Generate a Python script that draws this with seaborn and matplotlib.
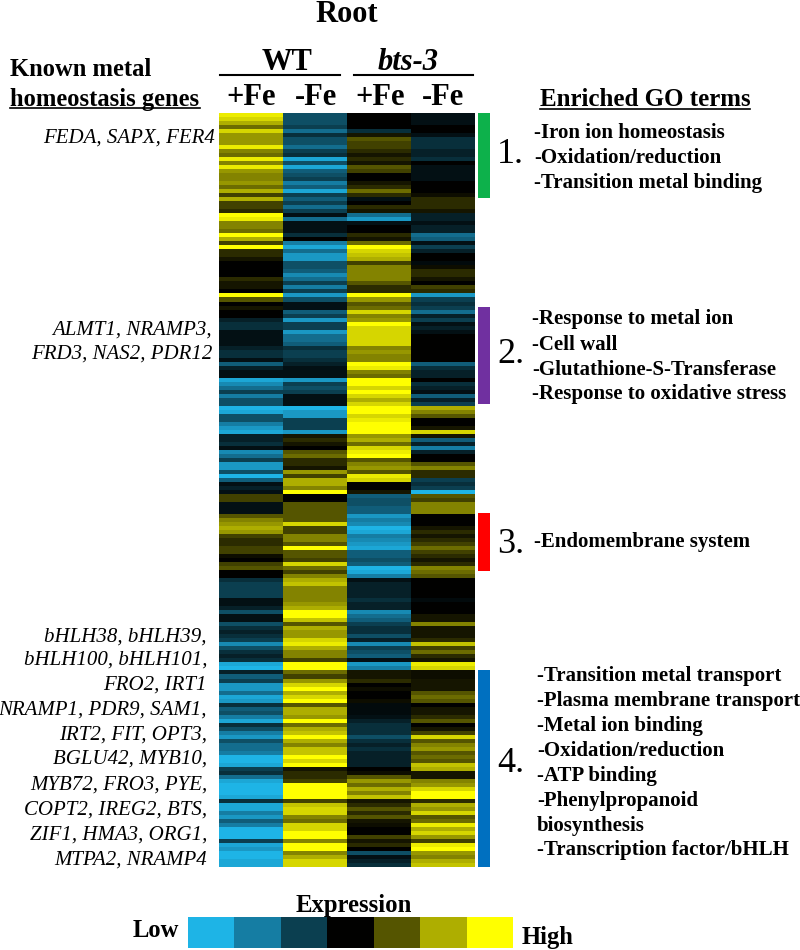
# plot.py - root expression heatmap
import numpy as np
import pandas as pd
import matplotlib
matplotlib.use("Agg")
import matplotlib.pyplot as plt
from matplotlib.colors import LinearSegmentedColormap
from matplotlib.patches import Rectangle
import seaborn as sns

# --- Data (one value per ~4 px row, -6 low .. 6 high) ---
wt_plus = [
    5.5, 5, 4, 2.5, 5, 3.5, 3.5, 3.5, 5.5, 3, 2.5, 5.5, 3, 5.5, 3.5, 3, 3, 3.5, 2.5, 4, 1.5, 4, 1.5, 1.5,
    1, 6, 5.5, 3, 3, 2.5, 6, 4, 1.5, 6, 1, 1, 0.5, 0, 0, 0, 0, 1, 0.5, 0.5, 0, 6, 2, 0,
    0.5, 0, 0, -1, -1.5, -1.5, -0.5, -0.5, -0.5, -0.5, -1, -1.5, -1.5, -0.5, -3, -1, -0.5, -0.5, -5.5, -4.5, -3.5, -2, -4, -2.5,
    -2.5, -6, -5.5, -2.5, -2.5, -4, -5, -5.5, -1, -1, -1.5, -0.5, -4.5, -3.5, -2, -5, -5, -2.5, -6, -3, -0.5, -1, -0.5, 1.5,
    1.5, -0.5, -0.5, -0.5, 2, 3, 3.5, 4, 3.5, 1.5, 1, 1, 1.5, 1.5, 0.3, 0, 1.5, 2, 0, 0, -1.5, -2, -2, -2,
    -2, -0.5, -0.5, -1, -2.5, -0.5, -0.5, -2.5, -1.5, -1, -1.5, -2, -4.5, -2.5, -1.5, -1, -1.5, -5.5, -6, -1, -3, -2, -5,
    -5, -3.5, -5.5, -5, -1.5, -3, -2.5, -4, -5.5, -1.5, -2.5, -4, -5, -2.5, -3.5, -3.5, -4, -6, -6, -5.5, -2, -1.5, -3.5,
    -5.5, -6, -6, -6, -5.5, -1.5, -5.5, -5.5, -4, -5, -3, -4, -6, -6, -6, -2, -5.5, -5, -6, -6, -5.5, -5.5,
]
wt_minus = [
    -2.5, -2.5, -2.5, -2, -3.5, -1.5, -2.5, -2.5, -3.5, -2, -1.5, -5.5, -2.5, -5.5, -3, -2.5, -2, -4, -3, -5.5, -2, -3, -2, -3.5,
    -2, -0.5, -3.5, -0.5, -0.5, -0.5, -1.5, 0, -4, -5.5, -3.5, -5, -5, -2.5, -2.5, -3, -4.5, -3.5, -2, -4, -2, -5, -2.5, -0.5,
    -0.5, -3, -2, -5, -2, -2, -5, -3.5, -3.5, -3, -1.5, -2, -2, -1.5, -1, -0.5, -0.5, -0.5, -5, -2, -2.5, -2, -0.5, -0.5,
    -0.5, -6, -5, -5, -2, -2, -2, -5, 0.5, 1, 0.5, 0, 2, 2.5, 1, 1, 0.5, 3.5, 1.5, 4, 4, 3, 6, 0,
    0, 2, 2, 2, 2, 2, 5, 1.5, 1.5, 3, 3, 2, 6, 2, 2, 1.5, 5, 2.5, 1.5, 3, 4, 4.5, 3, 3,
    3, 3, 3.5, 4, 6, 6, 4.5, 2, 4, 3.5, 3.5, 5, 5.5, 4, 3, 3, 1.5, 6, 6, 2.5, 1.5, 3.5, 5,
    6, 4, 5, 6, 2, 4, 4, 3.5, 6, 2.5, 4, 4.5, 6, 4, 3, 4.5, 4.5, 6, 5, 6, 0.5, 1, 1,
    1.5, 6, 6, 6, 6, 1.5, 4.5, 5, 5, 3, 2.5, 5, 5, 6, 6, 3, 6, 6, 3, 4, 5, 5,
]
bts_plus = [
    0, 0, 0, 0, -1.5, 0.5, 2, 1.5, 1.5, 1, 0.5, 1, 0.5, 2, 1.5, 0, 0, 0.5, 1, 2.5, 1, -0.5, 0, 1,
    0.5, -3.5, -5, -0.5, 0, 0, 1, 0.5, 2.5, 6, 5, 4.5, 4, 1.5, 3, 3, 3, 3, 2, 1, 1, 6, 3.5, 2,
    2.5, 5, 3, 3.5, 6, 5, 5, 5, 5, 5, 3, 3.5, 3, 3, 6, 5.5, 3, 2.5, 6, 6, 5, 6, 5, 4,
    5, 6, 6, 5, 5.5, 6, 6, 6, 3.5, 4, 2.5, 5, 5.5, 6, 2, 3, 3.5, 2, 5.5, 5, 0, 0, 0.5, -3,
    -2.5, -2.5, -3, -3, -5, -4, -4.5, -6, -5.5, -4, -4.5, -5, -5.5, -3, -3, -2.5, -3, -6, -5.5, -4, -0.5, -1, -1, -1,
    -1, -1.5, -1, -1, -4.5, -3.5, -3, -2, -1.5, -1.5, -2.5, -1, -4.5, -2, -2.5, -3, -0.5, -5, -4, 0.5, 0.5, 1, 0,
    0.3, 0, 0, 0.3, -0.3, -0.3, -0.3, -0.5, -1, -1.5, -1.5, -1.5, -2.5, -1.5, -1, -1.5, -1, -1, -1, -1, 0, 0.3, 2, 3.5,
    2.5, 4, 3, 4.5, 0.5, 1, 2, 1, 2, 0.5, 0.3, 0, 0, 1.5, 0.5, 1, 0, -2.5, -0.5, -1, -1.5,
]
bts_minus = [
    -0.5, -0.5, -0.5, 0, 0, -0.5, -1.5, -1.5, -1.5, -1, -1, -1.5, 0, -0.5, -0.5, -0.5, -0.5, 0, 0, 0, 0.3, 1, 1, 1,
    0.5, -1, -1, -0.5, -1, -1, -3.5, -3, -0.5, -2, -1, 0, 0, -0.3, 0.3, 1, 1, 0.5, 0, 1.5, 1, -5, -2, -1.5,
    -2, -3.5, -1, -2, -0.5, -1, -0.5, 0, 0, 0, 0, 0, 0, 0, -3, -1.5, -1, -1, 0, -1.5, -1, -0.5, -3, -1,
    -2, 4, 3, 2, 0, 0, 0.5, 5, 0.5, -3, -1, -4, -1, 0, 0, 2, 3, 1, 1, -2, -1.5, -2, -6, 2,
    1.5, 3, 3, 3, 0, 0, 0, 0.5, 1, 0.5, 1, 1.5, 2.5, 1.5, 1, 0.5, 1, 3, 2.5, 2, 0, 0, 0, 0,
    0, -0.3, 0, 0, 0, 0.5, 0.5, 3, 0.5, 0.5, 0.5, 1, 4.5, 1.5, 2.5, 1, 0.5, 5.5, 5, 0.3, 0.3, 0.5, 0.5,
    0.5, 2, 2.5, 2, 0, 0.5, 0.5, 1, 2, 0, 0.5, 1.5, 5, 2, 3, 3.5, 2, 2.5, 2, 4.5, 4, 0.5, 0.5, 3,
    3.5, 5, 6, 6, 1, 4, 3.5, 5, 2, 2.5, 5.5, 4, 5, 3.5, 1.5, 5.5, 6, 3.5, 3, 4, 4.5,
]
col_labels = ['+Fe', '-Fe', '+Fe', '-Fe']
legend_steps = [-6, -4, -2, 0, 2, 4, 6]
scale_colors = ['#1EB4E6', '#157CA2', '#0B3F50', '#000000', '#555500', '#ADAD00', '#FFFF00']

gene_lines = [
    'FEDA, SAPX, FER4', 'ALMT1, NRAMP3,', 'FRD3, NAS2, PDR12', 'bHLH38, bHLH39,', 'bHLH100, bHLH101,',
    'FRO2, IRT1', 'NRAMP1, PDR9, SAM1,', 'IRT2, FIT, OPT3,', 'BGLU42, MYB10,', 'MYB72, FRO3, PYE,',
    'COPT2, IREG2, BTS,', 'ZIF1, HMA3, ORG1,', 'MTPA2, NRAMP4',
]
gene_right = [215, 212, 212, 207, 207, 207, 207, 207, 207, 207, 207, 207, 207]
gene_y = [143, 335, 359, 642, 665, 690, 715, 740, 764, 790, 815, 840, 865]

go_lines = [
    '-Iron ion homeostasis', '-Oxidation/reduction', '-Transition metal binding',
    '-Response to metal ion', '-Cell wall', '-Glutathione-S-Transferase', '-Response to oxidative stress',
    '-Endomembrane system',
    '-Transition metal transport', '-Plasma membrane transport', '-Metal ion binding', '-Oxidation/reduction',
    '-ATP binding', '-Phenylpropanoid', 'biosynthesis', '-Transcription factor/bHLH',
]
go_x = [534, 534, 534, 532, 532, 532, 532, 534, 537, 537, 537, 537, 537, 537, 537, 537]
go_y = [138, 163, 188, 324, 350, 375, 399, 547, 681, 706, 731, 756, 781, 806, 831, 855]

cluster_names = ['1.', '2.', '3.', '4.']
cluster_y = [163, 363, 553, 772]
cluster_top = [113, 307, 513, 670]
cluster_bottom = [198, 404, 571, 867]
cluster_colors = ['#0DB14B', '#7030A0', '#FF0000', '#0070C0']

W, H = 800, 950
plt.rcParams['font.family'] = ['Liberation Serif', 'DejaVu Serif']
cmap = LinearSegmentedColormap.from_list('expr', scale_colors)

df = pd.DataFrame({'wt_plus': wt_plus, 'wt_minus': wt_minus, 'bts_plus': bts_plus, 'bts_minus': bts_minus})

fig = plt.figure(figsize=(W / 100, H / 100), dpi=100)


def px_axes(x0, y0, x1, y1):
    return fig.add_axes([x0 / W, 1 - y1 / H, (x1 - x0) / W, (y1 - y0) / H])


# main heatmap
ax = px_axes(219, 113, 475, 867)
sns.heatmap(df, ax=ax, cmap=cmap, vmin=-6, vmax=6, cbar=False, xticklabels=False, yticklabels=False)

# scale strip
ax_leg = px_axes(188, 917, 513, 948)
sns.heatmap([legend_steps], ax=ax_leg, cmap=cmap, vmin=-6, vmax=6, cbar=False, xticklabels=False, yticklabels=False)

# overlay in pixel coordinates for the annotations
ov = fig.add_axes([0, 0, 1, 1], facecolor='none')
ov.set_xlim(0, W)
ov.set_ylim(H, 0)
ov.axis('off')

ov.text(347, 22.5, 'Root', fontsize=22, fontweight='bold', ha='center', va='baseline')
ov.text(287, 70, 'WT', fontsize=22, fontweight='bold', ha='center', va='baseline')
ov.text(408, 70, 'bts-3', fontsize=22, fontweight='bold', style='italic', ha='center', va='baseline')
ov.plot([220, 340], [74.5, 74.5], color='black', lw=1.5)
ov.plot([354, 473], [74.5, 74.5], color='black', lw=1.5)
for cx, lab in zip([251.5, 316, 380.5, 443], col_labels):
    ov.text(cx, 105, lab, fontsize=22, fontweight='bold', ha='center', va='baseline')

ov.text(10, 76, 'Known metal', fontsize=17.7, fontweight='bold', va='baseline')
ov.text(10, 106, 'homeostasis genes', fontsize=17.7, fontweight='bold', va='baseline')
ov.plot([10, 200], [108, 108], color='black', lw=1.2)

ov.text(540, 106.5, 'Enriched GO terms', fontsize=18, fontweight='bold', va='baseline')
ov.plot([540, 750], [109, 109], color='black', lw=1.2)

for right, y, txt in zip(gene_right, gene_y, gene_lines):
    ov.text(right, y, txt, fontsize=15, style='italic', ha='right', va='baseline')

for x, y, txt in zip(go_x, go_y, go_lines):
    ov.text(x, y, txt, fontsize=15, fontweight='bold', va='baseline')

for name, cy, top, bot, c in zip(cluster_names, cluster_y, cluster_top, cluster_bottom, cluster_colors):
    ov.add_patch(Rectangle((478, top), 12, bot - top, color=c, lw=0))
    ov.text(497, cy, name, fontsize=26, va='baseline')

ov.text(353.5, 912, 'Expression', fontsize=17.8, fontweight='bold', ha='center', va='baseline')
ov.text(133, 937, 'Low', fontsize=17.7, fontweight='bold', va='baseline')
ov.text(522, 944, 'High', fontsize=17.7, fontweight='bold', va='baseline')

plt.savefig('out.png', dpi=100)
